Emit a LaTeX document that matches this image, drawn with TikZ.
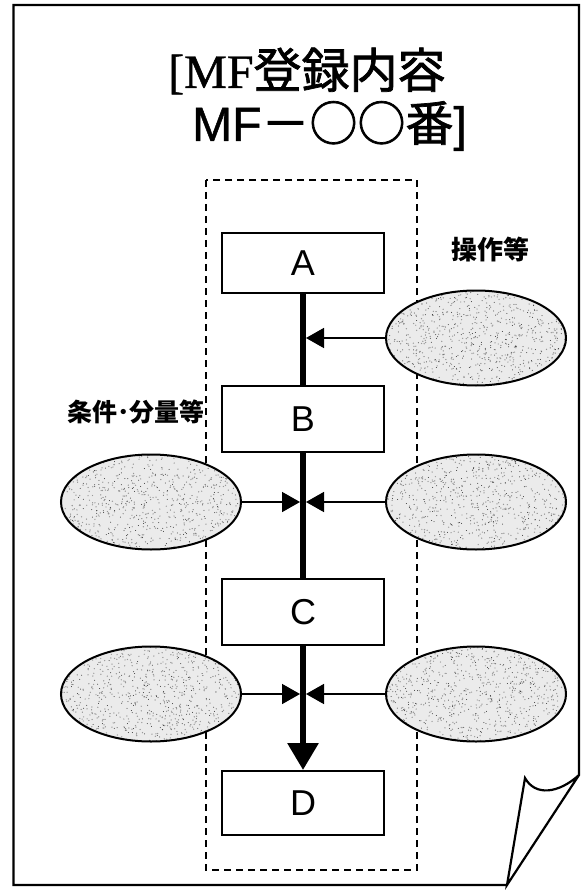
\documentclass[tikz,border=0pt]{standalone}
\usepackage{fontspec}
\setmainfont{Liberation Sans}
\newfontfamily\jpfont{Noto Sans CJK JP}
\newfontfamily\jptitle{Noto Sans CJK JP}[FakeBold=1.5]
\newfontfamily\titleserif{Liberation Serif}[FakeBold=1]
\newfontfamily\titlesans{Liberation Sans}[FakeBold=1]
\usetikzlibrary{shapes.geometric,arrows.meta}
\begin{document}
\begin{tikzpicture}[x=1pt,y=-1pt,
  frame/.style={line width=2.2pt,line join=miter},
  dashframe/.style={line width=1.6pt,dash pattern=on 7pt off 5pt},
  stepbox/.style={draw,line width=2pt,minimum width=162pt,minimum height=64pt,inner sep=0pt,font=\fontsize{36}{38}\selectfont},
  blob/.style={draw,line width=2pt,ellipse,minimum width=180pt,minimum height=95pt,inner sep=0pt,fill=black!8,
    path picture={
      \foreach \k in {1,...,500}{\fill[black!80,shift={(path picture bounding box.center)}] ({rand*92},{rand*50}) circle[radius=0.5pt];}
      \foreach \k in {1,...,450}{\fill[black!40,shift={(path picture bounding box.center)}] ({rand*92},{rand*50}) circle[radius=0.7pt];}
    }},
  trunk/.style={line width=6pt},
  feed/.style={line width=1.6pt,-{Triangle[length=18pt,width=20pt]}},
  lbl/.style={font=\jpfont\bfseries\fontsize{26}{28}\selectfont,inner sep=0pt}
]
\pgfmathsetseed{7}
\useasboundingbox (0,0) rectangle (584,890);
% page outline with folded corner
\draw[frame] (507,885) -- (13.5,885) -- (13.5,5) -- (579,5) -- (579,775)
  .. controls (558,794) and (535,796) .. (525,778) -- (507,885) -- (579,775);
% dashed frame
\draw[dashframe] (206,180) rectangle (417,870);
% title
\node[anchor=west,inner sep=0pt] (t1) at (168,71) {\fontsize{48}{50}\selectfont{\titleserif [MF}{\jptitle 登録内容}};
\node[anchor=west,inner sep=0pt] (t2) at (192,126) {\fontsize{48}{50}\selectfont{\titlesans MF}{\jptitle －○○番}{\titlesans ]}};
% steps
\node[stepbox,minimum height=60pt] (A) at (303,263) {A};
\node[stepbox,minimum height=66pt] (B) at (303,419) {B};
\node[stepbox,minimum height=66pt] (C) at (303,612) {C};
\node[stepbox] (D) at (303,803) {D};
% ellipses
\node[blob] (E0) at (476,338) {};
\node[blob] (E1) at (151,502) {};
\node[blob] (E2) at (476,502) {};
\node[blob] (E3) at (151,694) {};
\node[blob] (E4) at (476,694) {};
% labels
\node[lbl] (op) at (490,250) {操作等};
\node[lbl,font=\jpfont\bfseries\fontsize{25}{27}\selectfont] (cond) at (136,412) {条件･分量等};
% junction points
\coordinate (j0) at (306,338);
\coordinate (j1l) at (300,502);
\coordinate (j1r) at (306,502);
\coordinate (j2l) at (300,694);
\coordinate (j2r) at (306,694);
% trunk
\draw[trunk] (A.south) -- (B.north);
\draw[trunk] (B.south) -- (C.north);
\draw[trunk,-{Triangle[length=27pt,width=30pt]}] (C.south) -- (D.north);
% feeds
\draw[feed] (E0.west) -- (j0);
\draw[feed] (E1.east) -- (j1l);
\draw[feed] (E2.west) -- (j1r);
\draw[feed] (E3.east) -- (j2l);
\draw[feed] (E4.west) -- (j2r);
\end{tikzpicture}
\end{document}
